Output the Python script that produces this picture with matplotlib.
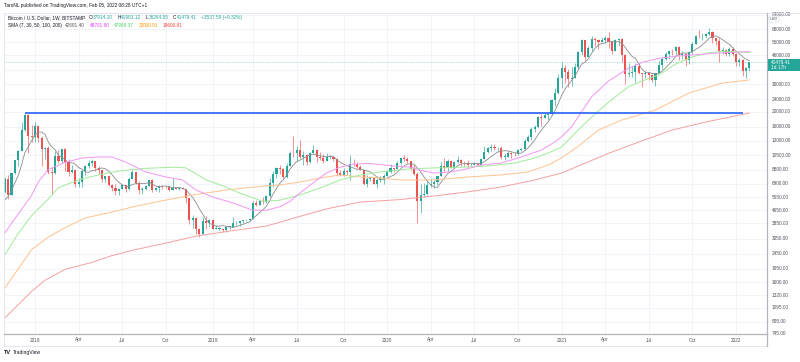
import numpy as np
import pandas as pd
import matplotlib
matplotlib.use("Agg")
import matplotlib.pyplot as plt
from matplotlib.transforms import blended_transform_factory
from matplotlib.patches import Rectangle
from matplotlib.lines import Line2D

FONT = ["Liberation Sans", "DejaVu Sans"]
plt.rcParams["font.family"] = FONT

W, H = 800, 362

# ---------------- data (BTC/USD weekly, Bitstamp) ----------------
first_week = "2017-10-30"
prior_closes = [3780, 4330, 4600, 5680, 6000, 6130]

week_open = [
    6130, 7370, 5870, 8040, 9720, 11250, 15200, 19140, 14000, 13850,
    16200, 13600, 11550, 11750, 8200, 8100, 10400, 9600, 11500, 9550,
    8200, 8450, 6850, 7030, 8350, 8900, 9350, 9650, 8700, 8500,
    7350, 7700, 6750, 6450, 6150, 6380, 6750, 6350, 7400, 8200,
    7000, 6300, 6400, 6700, 7300, 6250, 6500, 6700, 6600, 6550,
    6300, 6450, 6400, 6480, 6350, 5550, 4000, 4150, 3550, 3250,
    3950, 3850, 4050, 3550, 3550, 3550, 3450, 3650, 3650, 3850,
    3850, 3950, 4000, 4000, 4100, 5150, 5050, 5300, 5250, 5750,
    6950, 8000, 8750, 8550, 7650, 8950, 10850, 10800, 11300, 10250,
    10600, 9500, 10800, 11300, 10200, 10150, 9600, 10300, 10300, 10000,
    8050, 7850, 8300, 8200, 9250, 9200, 8800, 8500, 6900, 7400,
    7500, 6900, 7300, 7400, 7750, 8150, 8650, 8600, 9350, 10150,
    9900, 9650, 8550, 8000, 5350, 5850, 5900, 6800, 6900, 7100,
    7700, 8900, 8750, 9700, 8750, 9450, 9750, 9350, 9300, 9050,
    9100, 9250, 9150, 9950, 11050, 11700, 11900, 11650, 11700, 10250,
    10300, 10900, 10750, 10650, 11400, 11500, 13050, 13750, 15480, 16050,
    18450, 18150, 19150, 19250, 23850, 26400, 32780, 38150, 35800, 32250,
    33100, 38850, 48600, 57400, 45200, 51200, 59000, 57500, 55850, 58200,
    59800, 56200, 49100, 57800, 58250, 46400, 34700, 35700, 35800, 39100,
    35600, 34700, 35300, 34300, 31800, 35400, 39900, 43800, 47100, 49300,
    48800, 51800, 46000, 47300, 43200, 48200, 54700, 61500, 61300, 61300,
    63300, 65500, 59700, 57200, 49400, 50100, 46700, 50800, 47300, 41900,
    43100, 36300, 37914.10]
week_high = [
    7600, 7880, 8100, 9760, 11400, 17200, 19666, 19200, 16500, 17200,
    16300, 14000, 11900, 11950, 8800, 11100, 11300, 11550, 11700, 9900,
    9100, 8500, 7500, 8420, 9000, 9750, 9950, 9650, 8900, 8500,
    7750, 7800, 6900, 6850, 6500, 6800, 6800, 7600, 8500, 8250,
    7150, 6600, 6800, 7400, 7400, 6600, 6800, 6800, 6700, 6700,
    7500, 6550, 6550, 6600, 6400, 5600, 4350, 4200, 3600, 4200,
    4250, 4100, 4100, 3750, 3650, 3550, 3700, 3700, 4200, 3950,
    3950, 4050, 4100, 4150, 5300, 5450, 5350, 5650, 5850, 7500,
    8350, 8800, 9100, 8750, 9300, 11200, 13880, 12000, 13200, 11100,
    10650, 11000, 12300, 11450, 10950, 10650, 10900, 10450, 10350, 10050,
    8500, 8700, 8400, 10550, 9950, 9500, 9100, 8500, 7850, 7750,
    7650, 7500, 7700, 7900, 8450, 9200, 8750, 9600, 10150, 10500,
    10250, 9700, 9200, 8150, 6900, 6950, 7250, 7450, 7300, 7750,
    9450, 10050, 9950, 9850, 9700, 10400, 10000, 9600, 9800, 9300,
    9450, 9300, 10000, 12000, 11900, 12450, 12450, 11800, 12100, 10700,
    11100, 10950, 10950, 11500, 11700, 13350, 14100, 15950, 16450, 18900,
    19450, 19900, 19400, 24200, 28400, 34800, 41950, 40100, 37850, 38500,
    40900, 49000, 58300, 57500, 52600, 61700, 60600, 58400, 60000, 61300,
    64900, 57000, 58500, 59600, 59600, 46700, 40900, 39400, 41000, 41300,
    35700, 36600, 35300, 34700, 35400, 42400, 44700, 48100, 49400, 50500,
    52900, 52800, 48800, 47400, 49200, 56100, 62000, 67000, 63700, 64300,
    69000, 66300, 59800, 59100, 51900, 50600, 51800, 52100, 47500, 44500,
    43500, 38900, 41983.12]
week_low = [
    6030, 5520, 5860, 7950, 8900, 11200, 15000, 10900, 12800, 12800,
    12800, 9000, 9950, 7900, 5950, 8000, 9300, 9350, 8350, 7700,
    8100, 6550, 6550, 6600, 7850, 8700, 8950, 8350, 7950, 7050,
    7050, 6650, 6150, 5800, 5800, 6350, 6100, 6300, 7400, 6900,
    5900, 5900, 6250, 6700, 6100, 6150, 6100, 6400, 6450, 6150,
    6300, 6350, 6300, 6350, 5200, 3800, 3600, 3250, 3150, 3250,
    3550, 3650, 3550, 3500, 3450, 3350, 3350, 3550, 3650, 3750,
    3700, 3850, 3950, 3950, 4100, 4950, 5000, 5100, 5200, 5700,
    6600, 7500, 8000, 7450, 7550, 8950, 10300, 9700, 10100, 9100,
    9100, 9400, 10800, 9500, 9750, 9350, 9600, 9950, 9600, 7700,
    7750, 7750, 7850, 7300, 9000, 8700, 8400, 6800, 6550, 7200,
    6850, 6450, 7100, 6850, 7700, 8100, 8250, 8550, 9100, 9700,
    9300, 8450, 7800, 3850, 4450, 5700, 5850, 6600, 6450, 6800,
    7700, 8150, 8200, 8650, 8650, 9300, 8950, 9000, 8850, 8900,
    9050, 9000, 9150, 9950, 10900, 11150, 11350, 11100, 9900, 9850,
    10200, 10150, 10400, 10550, 11200, 11400, 12750, 13250, 14800, 15800,
    16200, 18100, 17600, 19000, 21900, 26100, 28200, 30400, 28850, 29300,
    33100, 37900, 46300, 43000, 44950, 49300, 53200, 50400, 55800, 55450,
    51300, 47000, 48800, 53000, 42000, 30000, 33400, 33400, 31000, 34800,
    28800, 32700, 32100, 31000, 29300, 35300, 37400, 42900, 43900, 46400,
    46500, 42800, 43400, 39600, 40800, 46900, 54400, 59600, 58000, 59500,
    62300, 55600, 53500, 42000, 47100, 45500, 45600, 45700, 39600, 39300,
    34000, 32900, 36264.55]
week_close = [
    7370, 5870, 8040, 9720, 11250, 15200, 19140, 14000, 13850, 16200,
    13600, 11550, 11750, 8200, 8100, 10400, 9600, 11500, 9550, 8200,
    8450, 6850, 7030, 8350, 8900, 9350, 9650, 8700, 8500, 7350,
    7700, 6750, 6450, 6150, 6380, 6750, 6350, 7400, 8200, 7000,
    6300, 6400, 6700, 7300, 6250, 6500, 6700, 6600, 6550, 6300,
    6450, 6400, 6480, 6350, 5550, 4000, 4150, 3550, 3250, 3950,
    3850, 4050, 3550, 3550, 3550, 3450, 3650, 3650, 3850, 3850,
    3950, 4000, 4000, 4100, 5150, 5050, 5300, 5250, 5750, 6950,
    8000, 8750, 8550, 7650, 8950, 10850, 10800, 11300, 10250, 10600,
    9500, 10800, 11300, 10200, 10150, 9600, 10300, 10300, 10000, 8050,
    7850, 8300, 8200, 9250, 9200, 8800, 8500, 6900, 7400, 7500,
    6900, 7300, 7400, 7750, 8150, 8650, 8600, 9350, 10150, 9900,
    9650, 8550, 8000, 5350, 5850, 5900, 6800, 6900, 7100, 7700,
    8900, 8750, 9700, 8750, 9450, 9750, 9350, 9300, 9050, 9100,
    9250, 9150, 9950, 11050, 11700, 11900, 11650, 11700, 10250, 10300,
    10900, 10750, 10650, 11400, 11500, 13050, 13750, 15480, 16050, 18450,
    18150, 19150, 19250, 23850, 26400, 32780, 38150, 35800, 32250, 33100,
    38850, 48600, 57400, 45200, 51200, 59000, 57500, 55850, 58200, 59800,
    56200, 49100, 57800, 58250, 46400, 34700, 35700, 35800, 39100, 35600,
    34700, 35300, 34300, 31800, 35400, 39900, 43800, 47100, 49300, 48800,
    51800, 46000, 47300, 43200, 48200, 54700, 61500, 61300, 61300, 63300,
    65500, 59700, 57200, 49400, 50100, 46700, 50800, 47300, 41900, 43100,
    36300, 37941.82, 41479.41]

# SMA curves (date, value)
sma30_dates = ["2017-10-30", "2017-11-27", "2017-12-25", "2018-01-08", "2018-01-29", "2018-03-05",
               "2018-04-09", "2018-05-14", "2018-06-11", "2018-07-09", "2018-08-20", "2018-10-01",
               "2018-11-05", "2018-12-03", "2019-01-07", "2019-02-18", "2019-04-01", "2019-04-29",
               "2019-05-27", "2019-06-17", "2019-07-08", "2019-08-05", "2019-09-02", "2019-09-30",
               "2019-10-28", "2019-11-25", "2019-12-23", "2020-01-20", "2020-02-24", "2020-03-23",
               "2020-04-13", "2020-05-18", "2020-06-22", "2020-07-20", "2020-08-31", "2020-10-12",
               "2020-11-23", "2020-12-21", "2021-01-04", "2021-01-25", "2021-02-15", "2021-03-08",
               "2021-04-12", "2021-05-24", "2021-06-21", "2021-07-26", "2021-08-30", "2021-10-04",
               "2021-11-08", "2021-12-13", "2022-01-10", "2022-01-31"]
sma30_vals = [3320, 4400, 5800, 7100, 8500, 9450, 10080, 10230, 10230, 9500, 8200, 7610,
              7280, 6280, 5660, 5180, 4650, 4650, 4900, 5300, 6000, 7000, 8100, 8800,
              9200, 9300, 9150, 8950, 8800, 8300, 8070, 8200, 8600, 9080, 9350, 10230,
              11340, 12800, 13800, 16000, 20000, 25000, 31500, 38000, 41500, 44000, 45500, 46300,
              47200, 48000, 48400, 48701.80]

sma50_dates = ["2017-10-30", "2017-11-27", "2017-12-25", "2018-01-29", "2018-02-19", "2018-04-02",
               "2018-05-14", "2018-06-25", "2018-07-16", "2018-08-20", "2018-10-22", "2018-11-12",
               "2018-12-24", "2019-02-04", "2019-03-04", "2019-04-22", "2019-05-27", "2019-07-08",
               "2019-08-19", "2019-09-30", "2019-11-11", "2019-12-23", "2020-02-03", "2020-02-24",
               "2020-04-13", "2020-06-22", "2020-08-03", "2020-09-28", "2020-11-09", "2020-12-07",
               "2021-01-04", "2021-01-25", "2021-02-08", "2021-03-08", "2021-04-12", "2021-05-24",
               "2021-06-21", "2021-07-26", "2021-08-30", "2021-10-04", "2021-11-08", "2021-12-13",
               "2022-01-10", "2022-01-31"]
sma50_vals = [2400, 3300, 4300, 5500, 6500, 7300, 7850, 8300, 8450, 8650, 8800, 8700,
              7300, 6550, 6000, 5300, 5400, 5830, 6470, 7280, 7840, 8200, 8440, 8600,
              8700, 8820, 8950, 9350, 10080, 10850, 11860, 13800, 15300, 18500, 23000, 29000,
              31500, 34500, 40500, 45000, 48000, 49000, 48500, 47989.37]

sma100_dates = ["2017-10-30", "2017-11-27", "2017-12-25", "2018-01-29", "2018-03-05", "2018-04-16",
                "2018-05-14", "2018-06-11", "2018-07-23", "2018-09-17", "2018-11-26", "2019-02-04",
                "2019-04-22", "2019-05-27", "2019-07-08", "2019-08-19", "2019-09-30", "2019-11-11",
                "2019-12-23", "2020-02-03", "2020-04-13", "2020-06-22", "2020-08-31", "2020-10-26",
                "2020-12-07", "2021-01-04", "2021-02-08", "2021-03-22", "2021-05-10", "2021-07-19",
                "2021-09-27", "2021-12-06", "2022-01-31"]
sma100_vals = [1472, 1950, 2600, 3130, 3600, 4150, 4340, 4530, 4880, 5300, 5830, 6280,
               6650, 6760, 7070, 7500, 7840, 7610, 7500, 7280, 7280, 7610, 7840, 8200,
               9080, 10080, 12000, 15250, 17680, 20510, 26380, 30570, 32000.91]

sma200_dates = ["2017-10-30", "2017-11-27", "2017-12-25", "2018-01-22", "2018-03-05", "2018-04-30",
                "2018-06-11", "2018-07-23", "2018-10-01", "2018-12-03", "2019-02-11", "2019-04-29",
                "2019-07-08", "2019-09-02", "2019-11-11", "2020-02-03", "2020-04-13", "2020-06-22",
                "2020-08-31", "2020-11-09", "2021-01-04", "2021-04-12", "2021-06-21", "2021-08-23",
                "2021-11-01", "2022-01-31"]
sma200_vals = [944, 1150, 1400, 1650, 1940, 2150, 2380, 2570, 2860, 3170, 3420, 3680,
               4250, 4750, 5250, 5450, 5750, 6100, 6560, 7280, 8070, 10800, 13000, 15250,
               17170, 19609.81]

ath_level = 19666.0
ath_start, ath_end = "2017-12-11", "2022-01-17"

price_ticks = [745, 895, 1095, 1320, 1600, 1950, 2450, 3050, 3850, 4650, 5650, 6900,
               8500, 10500, 13000, 16000, 20000, 24000, 30000, 37000, 46000, 56000, 68000, 84000]
hidden_tick = 37000   # label sits under the last-price tag

legend_title = "Bitcoin / U.S. Dollar, 1W, BITSTAMP"
ohlc_labels = ["O", "H", "L", "C"]
ohlc_values = ["37914.10", "41983.12", "36264.55", "41479.41"]
change_text = "+3537.59 (+9.32%)"
sma_title = "SMA (7, 30, 50, 100, 200)"
sma_last = ["42691.40", "48701.80", "47989.37", "32000.91", "19609.81"]

# ---------------- styling ----------------
UP, DOWN = "#26a69a", "#ef5350"
C7, C30, C50, C100, C200 = "#8c8c8c", "#f296f2", "#a0eb98", "#ffc28e", "#f5a0a0"
L30, L50, L100, L200 = "#e040fb", "#4cd964", "#ff9800", "#f44336"
TXT = "#131722"
AX_TXT = "#50535e"
GRID = "#f0f3fa"
FS = 3.4

fig = plt.figure(figsize=(W / 100, H / 100), dpi=100)
fig.patch.set_facecolor("white")


def fx(x):
    return x / W


def fy(y):
    return 1 - y / H


ax_l, ax_r, ax_t, ax_b = 4, 767, 13, 334
ax = fig.add_axes([fx(ax_l), fy(ax_b), (ax_r - ax_l) / W, (ax_b - ax_t) / H])
ax.set_yscale("log")
ax.set_facecolor("white")
for s in ax.spines.values():
    s.set_visible(False)
ax.set_xticks([])
ax.set_yticks([])
ax.yaxis.set_minor_locator(matplotlib.ticker.NullLocator())

start = pd.Timestamp(first_week)
o = np.array(week_open, float)
h = np.array(week_high, float)
l = np.array(week_low, float)
c = np.array(week_close, float)
n = len(c)
idx = np.arange(n)
dates = start + pd.to_timedelta(7 * idx, unit="D")


def pos(d):
    return (pd.Timestamp(d) - start).days / 7.0


ax.set_xlim(-0.24, 227.25)
ax.set_ylim(745, 86180)

# grid
for v in price_ticks:
    ax.axhline(v, color=GRID, lw=0.6, zorder=0)

tick_pos, tick_lab = [], []
for yr in range(2018, 2023):
    for m in (1, 4, 7, 10):
        first = pd.Timestamp(year=yr, month=m, day=1)
        cand = np.where(dates >= first)[0]
        if len(cand) == 0:
            continue
        k = cand[0]
        if dates[k].month != m:
            continue
        tick_pos.append(k)
        tick_lab.append(str(yr) if m == 1 else first.strftime("%b"))
for p in tick_pos:
    ax.axvline(p, color=GRID, lw=0.6, zorder=0)

# candles
up = c >= o
cols = np.where(up, UP, DOWN)
ax.vlines(idx, l, h, colors=cols, lw=0.45, zorder=2)
bot = np.minimum(o, c)
top = np.maximum(o, c)
top = np.maximum(top, bot * 1.006)
ax.bar(idx, top - bot, bottom=bot, width=0.62, color=cols, linewidth=0, zorder=3)

# SMA lines
closes_ext = pd.Series(prior_closes + list(c))
sma7 = closes_ext.rolling(7).mean().values[len(prior_closes):]
ax.plot(idx, sma7, color=C7, lw=0.6, zorder=4)
for dts, vals, col in [(sma200_dates, sma200_vals, C200), (sma100_dates, sma100_vals, C100),
                       (sma50_dates, sma50_vals, C50), (sma30_dates, sma30_vals, C30)]:
    ax.plot([pos(d) for d in dts], vals, color=col, lw=0.7, zorder=4)

# ATH line
ax.plot([pos(ath_start), pos(ath_end)], [ath_level, ath_level], color="#2962ff", lw=1.2,
        zorder=5, solid_capstyle="butt")

# last price line
ax.axhline(c[-1], color=UP, lw=0.5, ls=(0, (1, 1.5)), alpha=0.7, zorder=1)


# ---------------- frame ----------------
def fline(x0, y0, x1, y1, col, lw):
    fig.add_artist(Line2D([fx(x0), fx(x1)], [fy(y0), fy(y1)], color=col, lw=lw, zorder=10))


fline(4, 13, 799, 13, "#e0e3eb", 0.6)
fline(4, 13, 4, 346, "#e0e3eb", 0.6)
fline(4, 346, 767, 346, "#e0e3eb", 0.6)
fline(4, ax_b, 767, ax_b, "#b2b5be", 0.9)
fline(767, 13, 767, 346, "#b2b5be", 0.9)

# price axis labels
trans = blended_transform_factory(fig.transFigure, ax.transData)
for v in price_ticks:
    if v == hidden_tick:
        continue
    fig.text(fx(772), v, f"{v:.2f}", fontsize=FS, color=AX_TXT, va="center", ha="left",
             transform=trans, zorder=6)

# price tag
fig.add_artist(Rectangle((fx(768), fy(71)), fx(800) - fx(768), fy(58.5) - fy(71),
                         facecolor=UP, edgecolor="none", zorder=11, transform=fig.transFigure))
fig.text(fx(771), fy(62), f"{c[-1]:.2f}", fontsize=FS, color="white", va="center", ha="left", zorder=12)
fig.text(fx(771), fy(67.5), "1d 17h", fontsize=FS, color="white", va="center", ha="left", zorder=12)

# USD box
fig.text(fx(774), fy(19), "USD", fontsize=2.8, color=AX_TXT, va="center", ha="center", zorder=12,
         bbox=dict(boxstyle="round,pad=0.25", fc="white", ec="#d1d4dc", lw=0.4))

# time axis labels
trans_x = blended_transform_factory(ax.transData, fig.transFigure)
for p, lab in zip(tick_pos, tick_lab):
    fig.text(p, fy(340), lab, fontsize=FS, color=AX_TXT, va="center", ha="center", transform=trans_x)

# ---------------- header / legend ----------------
renderer = fig.canvas.get_renderer()


def put(x, y, s, col, size=FS, weight="normal"):
    t = fig.text(fx(x), fy(y), s, fontsize=size, color=col, va="center", ha="left", weight=weight,
                 zorder=12)
    return x + t.get_window_extent(renderer=renderer).width


put(4, 6, "TaroNL published on TradingView.com, Feb 05, 2022 08:28 UTC+1", TXT)

xx = put(8, 17.5, legend_title, TXT) + 3.5
for lab, val in zip(ohlc_labels, ohlc_values):
    xx = put(xx, 17.5, lab, TXT)
    xx = put(xx + 0.3, 17.5, val, UP) + 4.5
put(xx, 17.5, change_text, UP)

xx = put(8, 25.5, sma_title, TXT) + 3.5
for val, col in zip(sma_last, ["#555555", L30, L50, L100, L200]):
    xx = put(xx, 25.5, val, col) + 4.5

# TradingView logo
xx = put(4, 352.5, "TV", TXT, size=4.0, weight="bold")
put(xx + 1.5, 352.5, "TradingView", TXT, size=3.6)

fig.savefig("out.png", dpi=100, facecolor="white")
